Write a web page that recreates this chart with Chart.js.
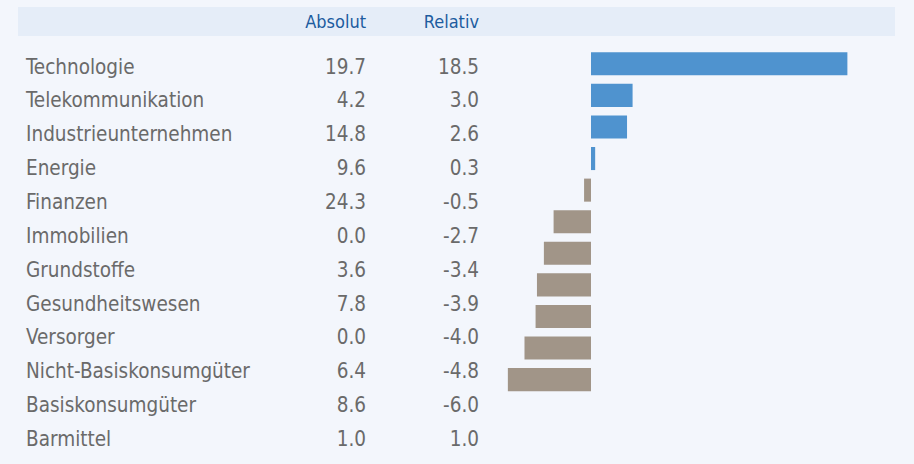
<!DOCTYPE html>
<html>
<head>
<meta charset="utf-8">
<script src="https://cdn.jsdelivr.net/npm/chart.js@4/dist/chart.umd.min.js"></script>
<style>
    body { margin: 0; width: 914px; height: 464px; background: #f3f6fc; overflow: hidden;
           font-family: "DejaVu Sans Condensed", "DejaVu Sans", sans-serif; font-stretch: condensed; }
    #head { position: absolute; left: 18px; top: 7px; width: 877px; height: 29px; background: #e5edf8; }
    .hcell { position: absolute; top: 7px; height: 29px; line-height: 29px; font-size: 18px; color: #1d5c9f; text-align: right; }
    #rows { position: absolute; left: 0; top: 50.6px; }
    .row { position: relative; height: 33.86px; line-height: 33.86px; font-size: 20.5px; color: #6a6a6a; width: 500px; }
    .row span { position: absolute; top: 0; }
    .name { left: 26px; }
    .abs { right: calc(500px - 366px); text-align: right; }
    .rel { right: calc(500px - 479px); text-align: right; }
    #barBox { position: absolute; left: 494px; top: 48px; width: 389px; height: 379px; }
</style>
</head>
<body>
<div id="head"></div>
<div class="hcell" style="right: calc(914px - 366px);">Absolut</div>
<div class="hcell" style="right: calc(914px - 479px);">Relativ</div>
<div id="rows"></div>
<div id="barBox"><canvas id="barChart"></canvas></div>

<script>
    // Sektoren und Werte
    const sectors = ['Technologie', 'Telekommunikation', 'Industrieunternehmen', 'Energie', 'Finanzen',
        'Immobilien', 'Grundstoffe', 'Gesundheitswesen', 'Versorger', 'Nicht-Basiskonsumgüter',
        'Basiskonsumgüter', 'Barmittel'];
    const absolut = [19.7, 4.2, 14.8, 9.6, 24.3, 0.0, 3.6, 7.8, 0.0, 6.4, 8.6, 1.0];
    const relativ = [18.5, 3.0, 2.6, 0.3, -0.5, -2.7, -3.4, -3.9, -4.0, -4.8, -6.0, 1.0];

    // Tabelle
    const rowsEl = document.getElementById('rows');
    sectors.forEach((s, i) => {
        const row = document.createElement('div');
        row.className = 'row';
        row.innerHTML = '<span class="name">' + s + '</span>' +
            '<span class="abs">' + absolut[i].toFixed(1) + '</span>' +
            '<span class="rel">' + relativ[i].toFixed(1) + '</span>';
        rowsEl.appendChild(row);
    });

    // Barmittel hat keinen Balken
    const barValues = relativ.map((v, i) => sectors[i] === 'Barmittel' ? null : v);

    const ctx = document.getElementById('barChart').getContext('2d');
    new Chart(ctx, {
        type: 'bar',
        data: {
            labels: sectors,
            datasets: [{
                data: barValues,
                backgroundColor: barValues.map(v => v >= 0 ? '#4f93cf' : '#a19588'),
                borderWidth: 0,
                barPercentage: 0.73,
                categoryPercentage: 1
            }]
        },
        options: {
            indexAxis: 'y',
            responsive: true,
            maintainAspectRatio: false,
            animation: false,
            layout: { padding: 0 },
            scales: {
                x: { display: false, min: -7, max: 21.07 },
                y: { display: false }
            },
            plugins: {
                legend: { display: false },
                tooltip: { enabled: false }
            }
        }
    });
</script>
</body>
</html>
